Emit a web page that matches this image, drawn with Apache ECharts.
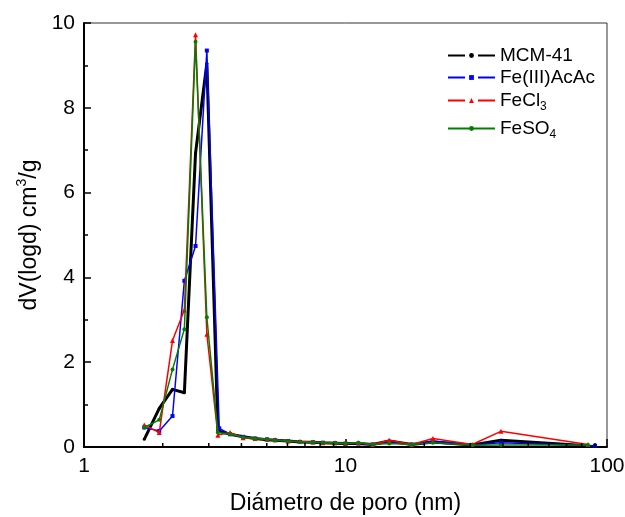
<!DOCTYPE html>
<html>
<head>
<meta charset="utf-8">
<script src="https://cdn.jsdelivr.net/npm/echarts@6/dist/echarts.min.js"></script>
<style>
  html, body { margin: 0; padding: 0; background: #fff; }
  #chart { width: 625px; height: 517px; }
</style>
</head>
<body>
<div id="chart"></div>
<script>
// pore diameter (nm), shared by most samples
var poreD = [1.70, 1.94, 2.18, 2.42, 2.67, 2.95, 3.25, 3.62, 4.06, 4.51, 5.01, 5.38, 6.03, 6.70, 7.51, 8.20, 9.12, 10.0, 11.2, 12.7, 14.7, 17.9, 21.6, 30.5, 39.3, 84.6];
// Fe(III)AcAc ends a bit further right
var poreDAcAc = [1.70, 1.94, 2.18, 2.42, 2.67, 2.95, 3.29, 3.62, 4.06, 4.51, 5.01, 5.38, 6.03, 6.70, 7.51, 8.20, 9.12, 10.0, 11.2, 12.7, 14.7, 17.9, 21.6, 30.5, 39.3, 90.0];

var mcm41  = [0.18, 0.91, 1.36, 1.28, 6.93, 9.05, 0.38, 0.30, 0.24, 0.20, 0.17, 0.16, 0.14, 0.12, 0.11, 0.10, 0.09, 0.08, 0.08, 0.06, 0.14, 0.06, 0.12, 0.05, 0.16, 0.03];
var feAcAc = [0.46, 0.38, 0.73, 3.92, 4.74, 9.35, 0.44, 0.30, 0.24, 0.20, 0.18, 0.16, 0.14, 0.12, 0.11, 0.10, 0.09, 0.08, 0.08, 0.06, 0.12, 0.06, 0.14, 0.05, 0.10, 0.03];
var feCl3  = [0.52, 0.34, 2.51, 3.23, 9.72, 2.66, 0.28, 0.34, 0.22, 0.20, 0.18, 0.17, 0.14, 0.13, 0.12, 0.10, 0.10, 0.08, 0.10, 0.06, 0.16, 0.06, 0.20, 0.06, 0.37, 0.06];
var feSO4  = [0.46, 0.64, 1.83, 2.78, 9.56, 3.06, 0.34, 0.30, 0.23, 0.20, 0.18, 0.16, 0.14, 0.12, 0.11, 0.10, 0.09, 0.08, 0.10, 0.06, 0.08, 0.06, 0.10, 0.04, 0.05, 0.05];

// minor ticks of the log axis
var xMinorTicks = [2, 3, 4, 5, 6, 7, 8, 9, 20, 30, 40, 50, 60, 70, 80, 90];
var seriesNames = ['MCM-41', 'Fe(III)AcAc', 'FeCl3', 'FeSO4'];

function pairs(xs, ys) {
  return ys.map(function (v, i) { return [xs[i], v]; });
}

var font = 'Liberation Sans, Arial, sans-serif';
var legendRich = {
  sub: { fontSize: 12, fontFamily: font, color: '#000', padding: [13, 0, 0, 0] }
};
function legendFmt(name) {
  if (name === 'FeCl3') return 'FeCl{sub|3}';
  if (name === 'FeSO4') return 'FeSO{sub|4}';
  return name;
}
var legendTops = [41, 63, 86, 114];
// line - gap (marker) - line, like the original key; FeSO4 is solid
var legendDash = [[17, 13], [17, 13], [17, 13], 'solid'];

var chart = echarts.init(document.getElementById('chart'));
var option = {
  animation: false,
  grid: {
    left: 84, right: 18, top: 23, bottom: 70,
    outerBoundsMode: 'none',
    show: true, borderColor: '#333', borderWidth: 1
  },
  legend: seriesNames.map(function (n, i) {
    return {
      data: [n], left: 442, top: legendTops[i],
      itemWidth: 47, itemHeight: 6, itemGap: 6,
      formatter: legendFmt,
      lineStyle: { type: legendDash[i] },
      textStyle: { fontSize: 19, fontFamily: font, color: '#000', rich: legendRich }
    };
  }),
  xAxis: {
    type: 'log', logBase: 10, min: 1, max: 100,
    name: 'Diámetro de poro (nm)', nameLocation: 'middle', nameGap: 45,
    nameTextStyle: { fontSize: 23, fontFamily: font, color: '#000' },
    axisLine: { lineStyle: { color: '#000', width: 2 } },
    axisTick: { inside: true, length: 8, lineStyle: { color: '#000', width: 1.5 } },
    axisLabel: { fontSize: 21, fontFamily: font, color: '#000', margin: 9 },
    splitLine: { show: false }
  },
  yAxis: {
    type: 'value', min: 0, max: 10, interval: 2,
    name: 'dV(logd) cm{sup|3}/g', nameLocation: 'middle', nameGap: 38,
    nameTextStyle: {
      fontSize: 23, fontFamily: font, color: '#000',
      rich: { sup: { fontSize: 14, fontFamily: font, color: '#000', padding: [0, 0, 14, 0] } }
    },
    axisLine: { show: true, lineStyle: { color: '#000', width: 2 } },
    axisTick: { inside: true, length: 7, lineStyle: { color: '#000', width: 1.5 } },
    minorTick: { show: true, splitNumber: 2, length: 4, lineStyle: { color: '#000', width: 1.5 } },
    axisLabel: { fontSize: 21, fontFamily: font, color: '#000', margin: 9 },
    splitLine: { show: false }
  },
  series: [
    {
      name: 'MCM-41', type: 'line', data: pairs(poreD, mcm41),
      color: '#000', lineStyle: { width: 3, color: '#000' },
      symbol: 'circle', symbolSize: 3, itemStyle: { color: '#000' }, z: 2
    },
    {
      name: 'Fe(III)AcAc', type: 'line', data: pairs(poreDAcAc, feAcAc),
      color: '#0000ff', lineStyle: { width: 1.5, color: '#0000ff' },
      symbol: 'rect', symbolSize: 4, itemStyle: { color: '#0000ff' }, z: 3
    },
    {
      name: 'FeCl3', type: 'line', data: pairs(poreD, feCl3),
      color: '#ff0000', lineStyle: { width: 1.5, color: '#ff0000' },
      symbol: 'triangle', symbolSize: 5, itemStyle: { color: '#ff0000' }, z: 4
    },
    {
      name: 'FeSO4', type: 'line', data: pairs(poreD, feSO4),
      color: '#008000', lineStyle: { width: 1.5, color: '#008000' },
      symbol: 'circle', symbolSize: 4, itemStyle: { color: '#008000' }, z: 5
    },
    {
      // log-spaced minor ticks on the x axis
      type: 'custom', silent: true, clip: false, z: 10,
      data: xMinorTicks.map(function (v) { return [v, 0]; }),
      renderItem: function (params, api) {
        var p = api.coord([api.value(0), 0]);
        return {
          type: 'line',
          shape: { x1: p[0], y1: p[1], x2: p[0], y2: p[1] - 4 },
          style: { stroke: '#000', lineWidth: 1.5 }
        };
      }
    }
  ]
};
chart.setOption(option);
</script>
</body>
</html>
